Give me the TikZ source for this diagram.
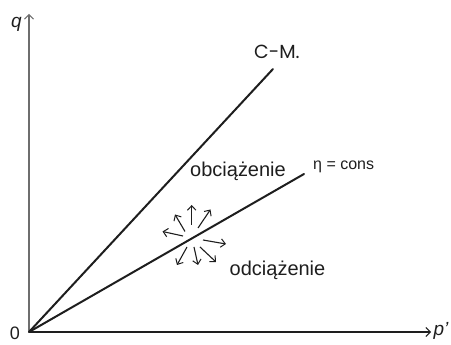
\documentclass[tikz,border=0pt]{standalone}
\usepackage{fontspec}
\setmainfont{Liberation Sans}
\newfontfamily\geofont{Poppins}
\usetikzlibrary{arrows.meta}
\definecolor{ink}{HTML}{1E1E1E}
\definecolor{axisgray}{HTML}{6E6E6E}
\begin{document}
\begin{tikzpicture}[x=1pt,y=-1pt,
  axisline/.style={line width=1.1pt,-{Straight Barb[length=4.5pt,width=9pt,line width=1pt]}},
  mainline/.style={ink,line width=2pt,line cap=round},
  smallarrow/.style={ink,line width=1.1pt,-{Straight Barb[length=4.5pt,width=8.5pt,line width=1pt]}},
  lbl/.style={ink,inner sep=0pt,font=\fontsize{20pt}{22pt}\selectfont},
  smalllbl/.style={ink,inner sep=0pt,font=\fontsize{16pt}{18pt}\selectfont},
  geolbl/.style={ink,inner sep=0pt,font=\geofont\fontsize{19pt}{21pt}\selectfont},
  axlbl/.style={ink,inner sep=0pt,font=\itshape\fontsize{19pt}{21pt}\selectfont}]
\useasboundingbox (0,0) rectangle (451,345);
% axes
\coordinate (O) at (29,332);
\coordinate (ytop) at (29,14);
\coordinate (xend) at (431,332);
\draw[axisline,axisgray] (O) -- (ytop);
\draw[axisline,ink] (O) -- (xend);
% lines
\coordinate (cmend) at (273,69);
\coordinate (etaend) at (304,174);
\draw[mainline] (O) -- (cmend);
\draw[mainline] (O) -- (etaend);
% arrows
\coordinate (s1) at (191.7,225); \coordinate (t1) at (191.7,205);
\coordinate (s2) at (185,231.5); \coordinate (t2) at (175,214.5);
\coordinate (s3) at (198,228);   \coordinate (t3) at (210.5,209.5);
\coordinate (s4) at (183,236);   \coordinate (t4) at (162.5,231.5);
\coordinate (s5) at (203,240);   \coordinate (t5) at (226,244);
\coordinate (s6) at (187,247);   \coordinate (t6) at (177,265);
\coordinate (s7) at (194,247);   \coordinate (t7) at (198,265);
\coordinate (s8) at (200,247);   \coordinate (t8) at (216,262);
\foreach \i in {1,...,8} {\draw[smallarrow] (s\i) -- (t\i);}
% labels
\node[axlbl] (qlbl) at (16.5,24) {q};
\node[axlbl] (plbl) at (441,331) {p'};
\node[ink,inner sep=0pt,anchor=base,font=\fontsize{18pt}{20pt}\selectfont] (zero) at (15,340) {0};
\node[geolbl,anchor=base west] (cmlbl) at (254,58.5) {C-M.};
\node[lbl,anchor=base west] (obc) at (190,176.5) {obciążenie};
\node[lbl,anchor=base west] (odc) at (229.5,275.5) {odciążenie};
\node[smalllbl,anchor=base west] (etalbl) at (313,170) {η = cons};
\end{tikzpicture}
\end{document}
